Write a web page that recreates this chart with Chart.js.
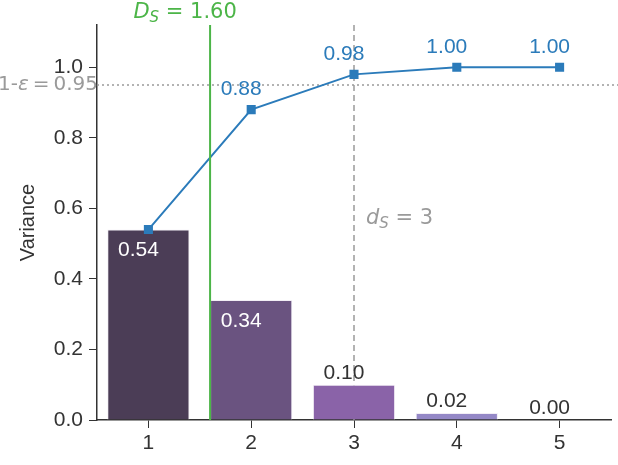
<!DOCTYPE html>
<html>
<head>
<meta charset="utf-8">
<script src="https://cdn.jsdelivr.net/npm/chart.js@4/dist/chart.umd.min.js"></script>
<style>
  html, body { margin: 0; padding: 0; background: #fff; }
  #wrap { width: 618px; height: 465px; }
</style>
</head>
<body>
<div id="wrap"><canvas id="chart" width="618" height="465"></canvas></div>
<script>
const COMPONENTS = [1, 2, 3, 4, 5]
const VARIANCE = [0.54, 0.34, 0.10, 0.02, 0.00]
const CUMULATIVE = [0.54, 0.88, 0.98, 1.00, 1.00]
const BAR_COLORS = ['#4b3d56', '#6a5380', '#8a63a8', '#9488c6', '#a9a0d2']
const Y_TICKS = [0, 0.2, 0.4, 0.6, 0.8, 1.0]
const THRESHOLD = 0.95
const D_S_CONT = 1.60
const D_S = 3

const BLUE = '#2b7bba'
const GREEN = '#4cb548'
const GREY = '#9a9a9a'
const INK = '#333333'
const SANS = '"Liberation Sans", Arial, sans-serif'

const barData = COMPONENTS.map((c, i) => ({ x: c, y: VARIANCE[i] }))
const lineData = COMPONENTS.map((c, i) => ({ x: c, y: CUMULATIVE[i] }))

// reference lines and text labels
const annotate = {
    id: 'annotate',
    beforeDatasetsDraw(chart) {
        const { ctx, chartArea, scales: { x, y } } = chart
        ctx.save()
        ctx.lineWidth = 1.5
        ctx.strokeStyle = GREY
        // dotted threshold
        ctx.setLineDash([2, 3])
        const yt = y.getPixelForValue(THRESHOLD)
        ctx.beginPath()
        ctx.moveTo(chartArea.left, yt)
        ctx.lineTo(chart.width, yt)
        ctx.stroke()
        // dashed d_S
        ctx.setLineDash([6, 4])
        const xd = x.getPixelForValue(D_S)
        ctx.beginPath()
        ctx.moveTo(xd, chartArea.top)
        ctx.lineTo(xd, chartArea.bottom)
        ctx.stroke()
        ctx.restore()
    },
    afterDatasetsDraw(chart) {
        const { ctx, chartArea, scales: { x, y } } = chart
        ctx.save()
        // green D_S line
        const xg = x.getPixelForValue(D_S_CONT)
        ctx.strokeStyle = GREEN
        ctx.lineWidth = 2
        ctx.beginPath()
        ctx.moveTo(xg, chartArea.top)
        ctx.lineTo(xg, chartArea.bottom)
        ctx.stroke()

        ctx.textBaseline = 'middle'
        ctx.textAlign = 'center'
        ctx.font = '21px ' + SANS

        // bar value labels
        VARIANCE.forEach((v, i) => {
            const px = x.getPixelForValue(COMPONENTS[i]) - 10
            if (v > 0.2) {
                ctx.fillStyle = '#ffffff'
                ctx.fillText(v.toFixed(2), px, y.getPixelForValue(v) + 21)
            } else {
                ctx.fillStyle = INK
                ctx.fillText(v.toFixed(2), px, y.getPixelForValue(v) - 12)
            }
        })

        // cumulative labels
        ctx.fillStyle = BLUE
        CUMULATIVE.forEach((v, i) => {
            if (i === 0) return
            const px = x.getPixelForValue(COMPONENTS[i]) - 10
            ctx.fillText(v.toFixed(2), px, y.getPixelForValue(v) - 20)
        })

        // math-style labels
        const mathLabel = (parts, px, py, align) => {
            let w = 0
            parts.forEach(p => { ctx.font = p.font; w += ctx.measureText(p.t).width })
            let cx = align === 'right' ? px - w : align === 'center' ? px - w / 2 : px
            ctx.textAlign = 'left'
            parts.forEach(p => {
                ctx.font = p.font
                ctx.fillStyle = p.color
                ctx.fillText(p.t, cx, py + (p.dy || 0))
                cx += ctx.measureText(p.t).width
            })
        }
        const it = 'italic 21px "DejaVu Sans", sans-serif'
        const rm = '21px "DejaVu Sans", sans-serif'
        const sub = 'italic 15px "DejaVu Sans", sans-serif'

        mathLabel([
            { t: 'D', font: it, color: GREEN },
            { t: 'S', font: sub, color: GREEN, dy: 5 },
            { t: ' = ' + D_S_CONT.toFixed(2), font: rm, color: GREEN }
        ], xg - 25, 13, 'center')

        mathLabel([
            { t: 'd', font: it, color: GREY },
            { t: 'S', font: sub, color: GREY, dy: 5 },
            { t: ' = ' + D_S, font: rm, color: GREY }
        ], x.getPixelForValue(D_S) + 12, y.getPixelForValue(0.57), 'left')

        const rm2 = '20px "DejaVu Sans", sans-serif'
        mathLabel([
            { t: '1-', font: rm2, color: GREY },
            { t: 'ε', font: 'italic 20px "DejaVu Sans", sans-serif', color: GREY },
            { t: '\u2009=\u2009' + THRESHOLD.toFixed(2), font: rm2, color: GREY }
        ], chartArea.left + 1, y.getPixelForValue(THRESHOLD), 'right')

        ctx.restore()
    }
}

new Chart(document.getElementById('chart'), {
    type: 'bar',
    data: {
        datasets: [{
            type: 'line',
            label: 'Cumulative',
            data: lineData,
            borderColor: BLUE,
            backgroundColor: BLUE,
            borderWidth: 2,
            pointStyle: 'rect',
            pointRadius: 5,
            order: 0
        }, {
            label: 'Variance',
            data: barData,
            backgroundColor: BAR_COLORS,
            borderColor: '#f2eef5',
            borderWidth: 1,
            categoryPercentage: 1,
            barPercentage: 0.8,
            order: 1
        }]
    },
    options: {
        responsive: false,
        animation: false,
        layout: { padding: { top: 25, right: 2, left: 0, bottom: 0 } },
        plugins: { legend: { display: false }, tooltip: { enabled: false } },
        scales: {
            x: {
                type: 'linear',
                min: 0.5,
                max: 5.5,
                offset: false,
                afterFit: s => { s.height = 45 },
                afterBuildTicks: s => { s.ticks = COMPONENTS.map(v => ({ value: v })) },
                grid: { drawOnChartArea: false, tickLength: 8, color: INK, offset: false },
                border: { color: INK, width: 1.5 },
                ticks: {
                    color: INK,
                    padding: 3,
                    font: { size: 21, family: SANS },
                    callback: v => String(v)
                }
            },
            y: {
                min: 0,
                max: 1.12,
                afterFit: s => { s.width = 97 },
                afterBuildTicks: s => { s.ticks = Y_TICKS.map(v => ({ value: v })) },
                grid: { drawOnChartArea: false, tickLength: 8, color: INK },
                border: { color: INK, width: 1.5 },
                title: {
                    display: true,
                    text: 'Variance',
                    color: INK,
                    font: { size: 20, family: SANS },
                    padding: { top: 16, bottom: 0 }
                },
                ticks: {
                    color: INK,
                    padding: 6,
                    font: { size: 21, family: SANS },
                    callback: v => v.toFixed(1)
                }
            }
        }
    },
    plugins: [annotate]
})
</script>
</body>
</html>
